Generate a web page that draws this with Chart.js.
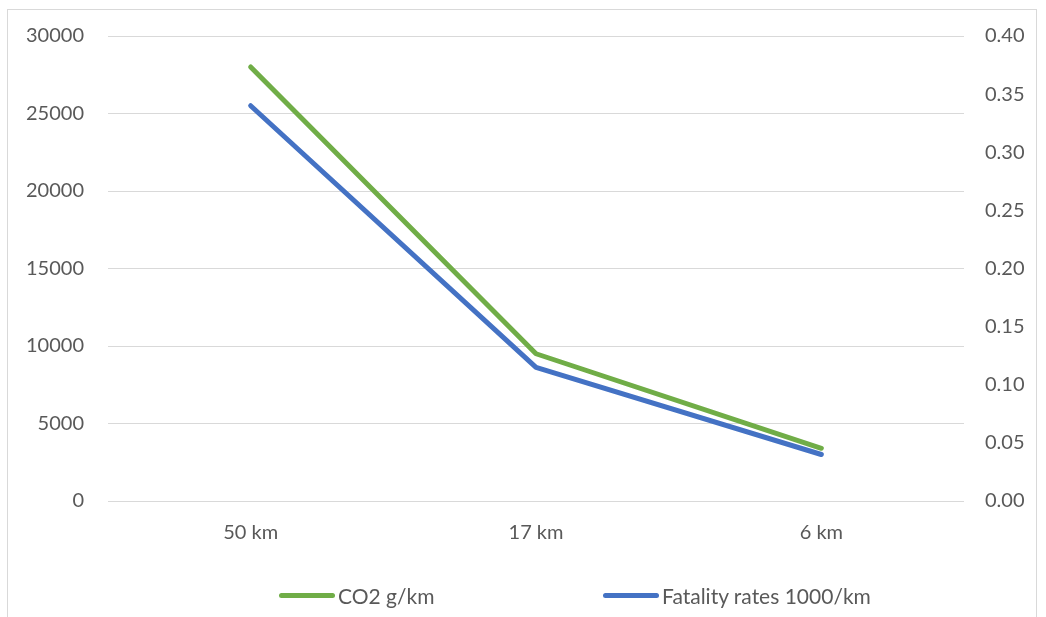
<!DOCTYPE html>
<html>
<head>
<meta charset="utf-8">
<script src="https://cdn.jsdelivr.net/npm/chart.js@4"></script>
<style>
  html, body { margin: 0; padding: 0; background: #fff; overflow: hidden; }
  #frame {
    position: absolute; left: 7px; top: 9px; width: 1028px; height: 640px;
    border: 1px solid #d9d9d9;
  }
  #wrap { position: absolute; left: 0; top: 0; width: 1046px; height: 617px; }
  #legend {
    position: absolute; top: 581px; left: 0; width: 1046px; height: 28px;
    font-family: Lato, sans-serif; font-size: 21px; color: #595959;
  }
  .item { position: absolute; top: 0; display: flex; align-items: center; height: 28px; }
  .swatch { width: 56px; height: 5px; border-radius: 3px; margin-right: 3px; }
</style>
</head>
<body>
<div id="frame"></div>
<div id="wrap"><canvas id="chart" width="1046" height="617"></canvas></div>
<div id="legend"></div>
<script>
const categories = ["50 km", "17 km", "6 km"];
const co2Values = [28000, 9500, 3400];
const fatalityValues = [0.34, 0.115, 0.04];
const seriesNames = ["CO2 g/km", "Fatality rates 1000/km"];
const seriesColors = ["#70ad47", "#4472c4"];

const textColor = "#595959";
const font = { family: "Lato, sans-serif", size: 20 };

const legendEl = document.getElementById("legend");
const legendX = [279, 603];
legendEl.innerHTML = seriesNames
  .map((name, i) => `<div class="item" style="left:${legendX[i]}px"><span class="swatch" style="background:${seriesColors[i]}"></span>${name}</div>`)
  .join("");

new Chart(document.getElementById("chart"), {
  type: "line",
  data: {
    labels: categories,
    datasets: [
      {
        label: seriesNames[0],
        data: co2Values,
        borderColor: seriesColors[0],
        backgroundColor: seriesColors[0],
        borderWidth: 5,
        borderCapStyle: "round",
        borderJoinStyle: "round",
        pointRadius: 0,
        tension: 0,
        yAxisID: "y"
      },
      {
        label: seriesNames[1],
        data: fatalityValues,
        borderColor: seriesColors[1],
        backgroundColor: seriesColors[1],
        borderWidth: 5,
        borderCapStyle: "round",
        borderJoinStyle: "round",
        pointRadius: 0,
        tension: 0,
        yAxisID: "y1"
      }
    ]
  },
  options: {
    responsive: false,
    animation: false,
    layout: { padding: { top: 34, bottom: 60, left: 0, right: 0 } },
    plugins: { legend: { display: false }, tooltip: { enabled: false } },
    scales: {
      x: {
        offset: true,
        grid: { display: false },
        border: { display: false },
        ticks: { color: textColor, font, padding: 12 }
      },
      y: {
        position: "left",
        min: 0,
        max: 30000,
        grid: { color: "#d9d9d9", lineWidth: 1, drawTicks: false },
        border: { display: false },
        ticks: { stepSize: 5000, color: textColor, font, padding: 24, callback: (v) => String(v) },
        afterFit: (s) => { s.width = 108; }
      },
      y1: {
        position: "right",
        min: 0,
        max: 0.4,
        grid: { display: false, drawTicks: false },
        border: { display: false },
        ticks: { stepSize: 0.05, color: textColor, font, padding: 21, callback: (v) => Number(v).toFixed(2) },
        afterFit: (s) => { s.width = 82; }
      }
    }
  }
});
</script>
</body>
</html>
